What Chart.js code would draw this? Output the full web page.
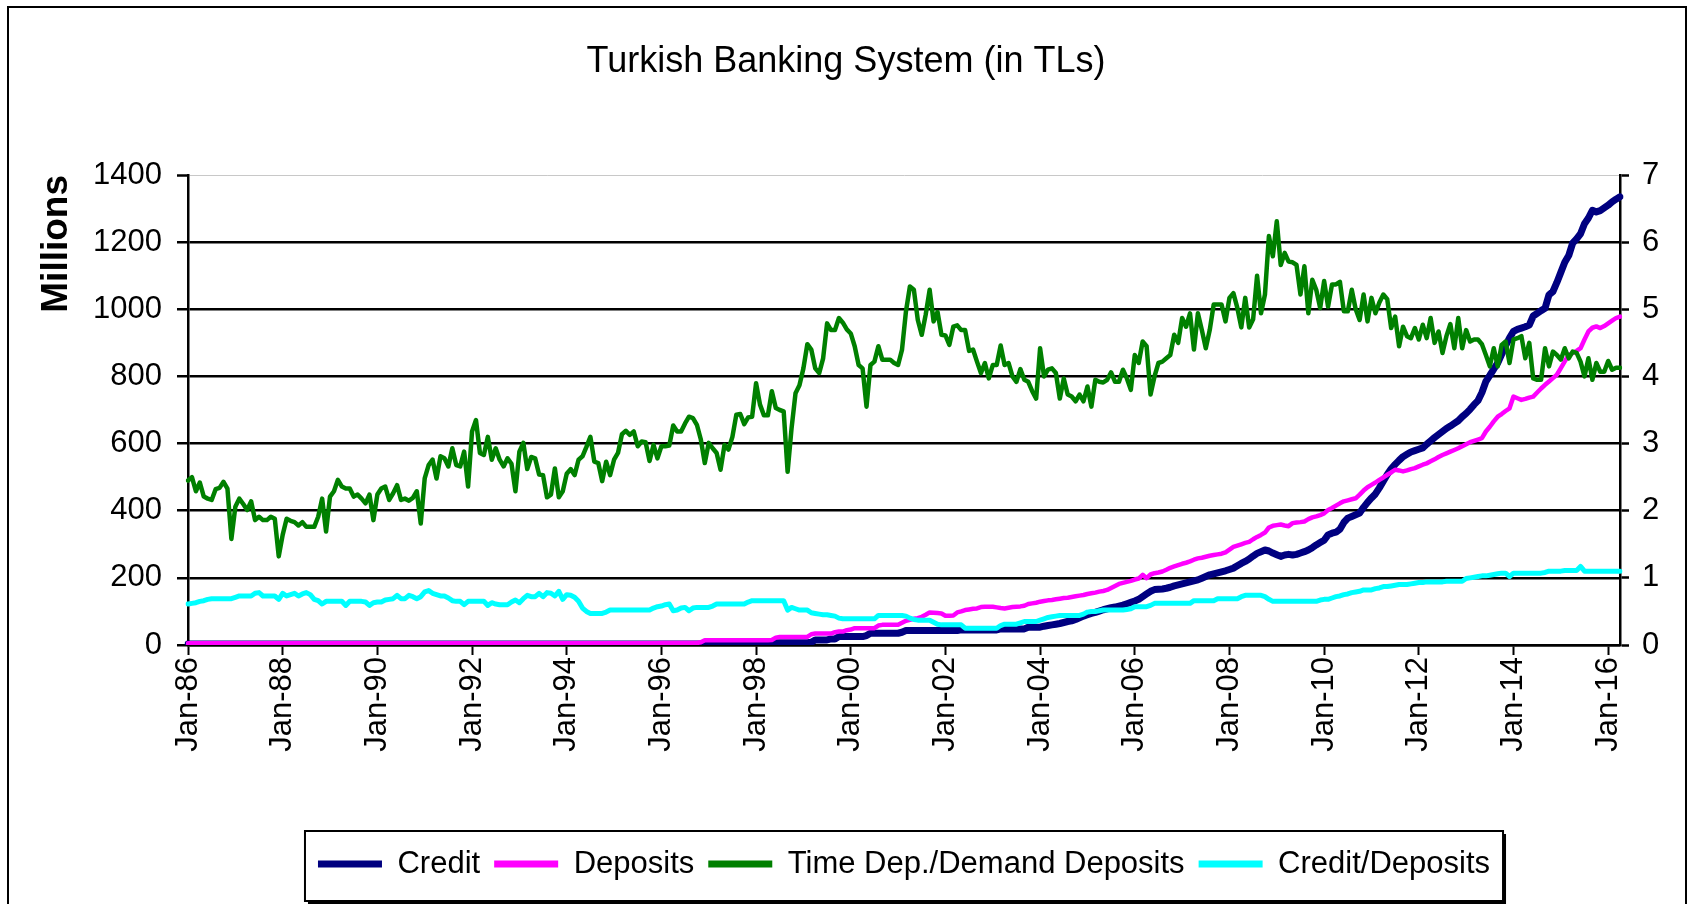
<!DOCTYPE html>
<html>
<head>
<meta charset="utf-8">
<script src="https://cdn.jsdelivr.net/npm/chart.js@4"></script>
<style>
html,body{margin:0;padding:0;background:#fff;overflow:hidden;width:1692px;height:904px;}
#frame{position:absolute;left:7px;top:6px;width:1680px;height:1000px;border:2px solid #000;box-sizing:border-box;}
#c{position:absolute;left:0;top:0;}
</style>
</head>
<body>
<div id="frame"></div>
<canvas id="c" width="1692" height="904"></canvas>
<script>
// ---- Data (monthly, Jan-86 .. Apr-16) ----
const monthNames = ['Jan','Feb','Mar','Apr','May','Jun','Jul','Aug','Sep','Oct','Nov','Dec'];
const firstYear = 1986;

// Credit (left axis, millions)
const credit = [
  3,3,3,3,3,3,3,3,3,3,3,3,
  3,3,3,3,3,3,3,3,3,3,3,3,
  3,3,3,3,3,3,3,3,3,3,3,3,
  3,3,3,3,3,3,3,3,3,3,3,3,
  3,3,3,3,3,3,3,3,3,3,3,3,
  3,3,3,3,3,3,3,3,3,3,3,3,
  3,3,3,3,3,3,3,3,3,3,3,3,
  3,3,3,3,3,3,3,3,3,3,3,3,
  3,3,3,3,3,3,3,3,3,3,3,3,
  3,3,3,3,3,3,3,3,3,3,3,3,
  3,3,3,3,3,3,3,3,3,3,3,3,
  4,4,4,4,6,7,7,7,7,7,7,7,
  7,7,7,7,7,7,7,7,7,7,7,7,
  7,7,8,15,15,15,15,18,18,25,25,25,
  25,25,25,25,28,35,35,35,35,35,35,35,
  35,38,43,43,43,43,43,43,43,43,43,43,
  43,43,43,43,45,45,45,45,45,45,45,45,
  45,45,48,48,48,48,48,48,48,53,53,53,
  53,56,58,60,62,64,67,70,72,76,81,86,
  90,94,97,101,105,108,111,113,116,119,123,127,
  131,136,144,152,160,165,166,167,169,172,176,179,
  182,185,188,191,194,199,204,209,212,215,218,221,
  225,229,236,243,249,256,265,273,278,283,280,274,
  269,264,268,270,268,270,274,278,283,290,298,305,
  312,328,333,336,345,365,378,383,388,393,410,425,
  438,450,468,488,508,525,538,550,561,568,575,579,
  583,587,598,608,618,627,636,645,652,660,668,680,
  690,702,716,728,752,785,803,822,840,866,892,915,
  934,940,944,948,953,980,988,996,1003,1043,1053,1080,
  1110,1140,1160,1197,1210,1225,1255,1272,1295,1290,1294,1302,
  1310,1320,1328,1335
];

// Deposits (left axis, millions)
const deposits = [
  5,5,5,5,5,5,5,5,5,5,5,5,
  5,5,5,5,5,5,5,5,5,5,5,5,
  5,5,5,5,5,5,5,5,5,5,5,5,
  5,5,5,5,5,5,5,5,5,5,5,5,
  5,5,5,5,5,5,5,5,5,5,5,5,
  5,5,5,5,5,5,5,5,5,5,5,5,
  5,5,5,5,5,5,5,5,5,5,5,5,
  5,5,5,5,5,5,5,5,5,5,5,5,
  5,5,5,5,5,5,5,5,5,5,5,5,
  5,5,5,5,5,5,5,5,5,5,5,5,
  6,6,6,6,6,6,6,6,6,6,8,14,
  14,14,14,14,14,14,14,14,14,14,14,14,
  14,14,14,14,15,22,24,24,24,24,24,24,
  24,24,32,34,34,34,34,34,38,40,40,44,
  46,50,50,50,50,50,50,58,60,60,60,60,
  60,66,72,75,78,80,84,90,97,96,95,94,
  87,87,88,97,100,104,106,108,109,113,114,114,
  114,112,110,109,111,113,114,115,117,122,124,126,
  129,131,133,134,136,138,140,141,143,145,147,149,
  152,154,156,159,161,164,170,176,182,185,188,191,
  195,198,209,199,210,214,216,219,224,230,234,238,
  242,245,249,254,258,260,263,266,268,270,272,276,
  284,292,296,300,304,307,315,322,328,335,350,355,
  357,359,356,354,363,365,366,368,375,380,383,387,
  392,402,408,415,422,428,431,434,437,448,460,470,
  477,484,492,499,507,514,522,520,517,520,524,527,
  532,537,541,547,553,560,566,571,576,581,586,592,
  598,604,608,612,616,636,650,666,680,688,697,705,
  740,735,730,733,737,740,752,764,775,785,795,805,
  825,845,864,870,876,884,910,934,945,949,944,950,
  958,966,974,978
];

// Time Deposits / Demand Deposits (right axis)
const timeDemand = [
  2.45,2.50,2.29,2.42,2.21,2.18,2.16,2.32,2.34,2.43,2.33,1.58,
  2.06,2.18,2.10,2.01,2.14,1.86,1.91,1.86,1.86,1.91,1.88,1.32,
  1.64,1.88,1.85,1.83,1.78,1.83,1.76,1.76,1.76,1.91,2.18,1.69,
  2.21,2.29,2.46,2.36,2.33,2.33,2.21,2.24,2.18,2.11,2.24,1.86,
  2.24,2.33,2.36,2.16,2.26,2.38,2.16,2.18,2.15,2.19,2.29,1.81,
  2.48,2.68,2.76,2.48,2.81,2.78,2.66,2.93,2.68,2.66,2.88,2.36,
  3.18,3.35,2.86,2.83,3.10,2.76,2.93,2.76,2.66,2.78,2.70,2.29,
  2.88,3.01,2.62,2.80,2.78,2.54,2.53,2.20,2.24,2.63,2.20,2.29,
  2.55,2.62,2.53,2.76,2.81,2.95,3.10,2.73,2.71,2.44,2.73,2.53,
  2.76,2.86,3.14,3.19,3.13,3.18,2.96,3.03,3.02,2.74,2.98,2.78,
  2.96,2.96,2.97,3.27,3.18,3.18,3.30,3.40,3.38,3.28,3.06,2.71,
  3.01,2.93,2.86,2.61,2.98,2.91,3.10,3.43,3.44,3.29,3.39,3.40,
  3.90,3.58,3.42,3.42,3.78,3.53,3.50,3.48,2.58,3.23,3.75,3.87,
  4.12,4.48,4.40,4.12,4.05,4.27,4.79,4.69,4.69,4.87,4.80,4.70,
  4.64,4.45,4.17,4.12,3.55,4.17,4.22,4.45,4.25,4.25,4.25,4.20,
  4.17,4.40,4.97,5.34,5.29,4.84,4.62,4.92,5.29,4.82,4.96,4.62,
  4.61,4.47,4.74,4.76,4.69,4.69,4.38,4.40,4.22,4.05,4.20,3.97,
  4.17,4.17,4.46,4.17,4.20,4.00,3.92,4.11,3.95,3.92,3.78,3.67,
  4.42,4.00,4.10,4.12,4.05,3.67,3.97,3.73,3.70,3.63,3.73,3.63,
  3.85,3.55,3.95,3.92,3.91,3.95,4.06,3.92,3.92,4.10,3.97,3.80,
  4.32,4.20,4.52,4.45,3.73,4.00,4.20,4.22,4.27,4.32,4.62,4.50,
  4.87,4.74,4.94,4.40,4.94,4.69,4.42,4.69,5.07,5.07,5.07,4.82,
  5.17,5.24,5.02,4.73,5.17,4.73,4.85,5.50,4.94,5.22,6.09,5.79,
  6.31,5.66,5.84,5.71,5.70,5.66,5.22,5.64,4.94,5.44,5.29,5.02,
  5.42,5.04,5.37,5.37,5.41,4.97,4.97,5.29,5.00,4.84,5.22,4.82,
  5.17,4.94,5.10,5.22,5.15,4.72,4.89,4.45,4.74,4.60,4.57,4.72,
  4.55,4.77,4.57,4.87,4.50,4.67,4.35,4.60,4.78,4.42,4.87,4.42,
  4.69,4.52,4.55,4.55,4.48,4.32,4.15,4.42,4.15,4.47,4.52,4.20,
  4.55,4.57,4.60,4.27,4.50,3.97,3.95,3.95,4.42,4.15,4.37,4.32,
  4.25,4.42,4.27,4.37,4.35,4.22,4.00,4.27,3.95,4.20,4.07,4.07,
  4.23,4.10,4.13,4.13
];

// Credit / Deposits (right axis)
const creditDeposits = [
  0.61,0.62,0.63,0.65,0.66,0.68,0.69,0.69,0.69,0.69,0.69,0.69,
  0.71,0.73,0.73,0.73,0.73,0.77,0.78,0.73,0.73,0.73,0.73,0.68,
  0.77,0.73,0.75,0.77,0.73,0.76,0.78,0.75,0.68,0.66,0.61,0.65,
  0.65,0.65,0.65,0.65,0.59,0.65,0.65,0.65,0.65,0.64,0.59,0.63,
  0.64,0.64,0.67,0.68,0.69,0.74,0.69,0.69,0.74,0.72,0.69,0.72,
  0.79,0.81,0.77,0.75,0.73,0.73,0.70,0.66,0.65,0.65,0.60,0.65,
  0.65,0.65,0.65,0.65,0.59,0.63,0.61,0.60,0.60,0.60,0.64,0.67,
  0.63,0.69,0.74,0.72,0.72,0.77,0.72,0.78,0.77,0.73,0.80,0.68,
  0.75,0.74,0.71,0.65,0.55,0.50,0.47,0.47,0.47,0.47,0.49,0.52,
  0.52,0.52,0.52,0.52,0.52,0.52,0.52,0.52,0.52,0.52,0.55,0.57,
  0.58,0.60,0.61,0.51,0.52,0.55,0.56,0.51,0.55,0.56,0.56,0.56,
  0.56,0.58,0.61,0.61,0.61,0.61,0.61,0.61,0.61,0.61,0.64,0.66,
  0.66,0.66,0.66,0.66,0.66,0.66,0.66,0.66,0.52,0.56,0.54,0.52,
  0.52,0.52,0.48,0.47,0.46,0.45,0.45,0.44,0.43,0.40,0.39,0.39,
  0.39,0.39,0.39,0.39,0.39,0.39,0.39,0.44,0.44,0.44,0.44,0.44,
  0.44,0.44,0.43,0.40,0.38,0.37,0.37,0.37,0.37,0.34,0.31,0.30,
  0.30,0.30,0.30,0.30,0.30,0.25,0.25,0.25,0.25,0.25,0.25,0.25,
  0.25,0.25,0.29,0.31,0.31,0.31,0.31,0.33,0.35,0.35,0.35,0.35,
  0.37,0.39,0.41,0.42,0.43,0.44,0.44,0.44,0.44,0.44,0.44,0.46,
  0.49,0.50,0.50,0.51,0.52,0.52,0.52,0.52,0.52,0.52,0.53,0.54,
  0.57,0.57,0.57,0.57,0.59,0.62,0.62,0.62,0.62,0.62,0.62,0.62,
  0.62,0.62,0.62,0.66,0.66,0.66,0.66,0.66,0.66,0.69,0.69,0.69,
  0.69,0.69,0.69,0.72,0.74,0.74,0.74,0.74,0.74,0.72,0.68,0.65,
  0.65,0.65,0.65,0.65,0.65,0.65,0.65,0.65,0.65,0.65,0.65,0.67,
  0.68,0.68,0.70,0.72,0.73,0.75,0.76,0.78,0.79,0.80,0.82,0.82,
  0.82,0.84,0.85,0.87,0.87,0.88,0.89,0.90,0.90,0.90,0.91,0.92,
  0.93,0.93,0.94,0.94,0.94,0.94,0.94,0.95,0.95,0.95,0.95,0.95,
  0.99,1.00,1.01,1.02,1.03,1.03,1.04,1.05,1.06,1.07,1.07,1.02,
  1.07,1.07,1.07,1.07,1.07,1.07,1.07,1.07,1.08,1.10,1.10,1.10,
  1.10,1.11,1.11,1.11,1.11,1.17,1.10,1.10,1.10,1.10,1.10,1.10,
  1.10,1.10,1.10,1.10
];

// Category labels: one per month
const months = credit.map((_, i) =>
  monthNames[i % 12] + '-' + String((firstYear + Math.floor(i / 12)) % 100).padStart(2, '0'));

const leftTicks = {min: 0, max: 1400, step: 200};
const rightTicks = {min: 0, max: 7, step: 1};

const FONT = "'Liberation Sans', Arial, Helvetica, sans-serif";
Chart.defaults.font.family = FONT;
Chart.defaults.color = '#000';

// Frame (with a small shadow) behind the legend; drawn before the legend itself
const legendFrame = {
  id: 'legendFrame',
  beforeDraw(chart) {
    const lg = chart.legend;
    if (!lg || !lg.legendHitBoxes || !lg.legendHitBoxes.length) return;
    const hb = lg.legendHitBoxes;
    const l = Math.min(...hb.map(h => h.left)) - 13;
    const r = Math.max(...hb.map(h => h.left + h.width)) + 13;
    const cy = hb[0].top + hb[0].height / 2;
    const ctx = chart.ctx;
    ctx.save();
    ctx.fillStyle = '#000';
    ctx.fillRect(l + 3, cy - 30, r - l, 70);
    ctx.fillStyle = '#fff';
    ctx.fillRect(l, cy - 33, r - l, 70);
    ctx.strokeStyle = '#000';
    ctx.lineWidth = 2;
    ctx.strokeRect(l, cy - 33, r - l, 70);
    ctx.restore();
  }
};

new Chart(document.getElementById('c'), {
  type: 'line',
  data: {
    labels: months,
    datasets: [
      {label: 'Credit', data: credit, borderColor: '#000080', backgroundColor: '#000080', borderWidth: 7, yAxisID: 'y', order: 4},
      {label: 'Deposits', data: deposits, borderColor: '#FF00FF', backgroundColor: '#FF00FF', borderWidth: 4.5, yAxisID: 'y', order: 3},
      {label: 'Time Dep./Demand Deposits', data: timeDemand, borderColor: '#008000', backgroundColor: '#008000', borderWidth: 4.5, yAxisID: 'y2', order: 2},
      {label: 'Credit/Deposits', data: creditDeposits, borderColor: '#00FFFF', backgroundColor: '#00FFFF', borderWidth: 5, yAxisID: 'y2', order: 1}
    ]
  },
  options: {
    responsive: false,
    animation: false,
    devicePixelRatio: 1,
    elements: {
      point: {radius: 0, hoverRadius: 0},
      line: {tension: 0, borderJoinStyle: 'round', borderCapStyle: 'round'}
    },
    layout: {padding: {left: 0, right: 0, top: 0, bottom: 14.5}},
    plugins: {
      title: {
        display: true,
        text: 'Turkish Banking System (in TLs)',
        color: '#000',
        font: {size: 36, weight: 'normal'},
        padding: {top: 40.4, bottom: 91.4}
      },
      legend: {
        position: 'bottom',
        fullSize: false,
        labels: {
          color: '#000',
          font: {size: 31},
          boxWidth: 64,
          boxHeight: 7,
          padding: 14,
          generateLabels: chart => chart.data.datasets.map((ds, i) => ({
            text: ds.label, fillStyle: ds.borderColor, strokeStyle: ds.borderColor,
            lineWidth: 0, hidden: false, datasetIndex: i, fontColor: '#000'
          }))
        }
      },
      tooltip: {enabled: false}
    },
    scales: {
      x: {
        type: 'category',
        offset: false,
        afterBuildTicks: s => { s.ticks = s.ticks.filter(t => t.value % 24 === 0); },
        afterFit: s => { s.height = 189.5; },
        grid: {drawOnChartArea: false, drawTicks: true, tickLength: 10, tickWidth: 2, tickColor: '#000', color: '#000'},
        border: {display: true, color: '#000', width: 2.5},
        ticks: {
          autoSkip: false, minRotation: 90, maxRotation: 90, padding: 2,
          color: '#000', font: {size: 31},
          callback: function (v) { return this.getLabelForValue(v); }
        }
      },
      y: {
        position: 'left',
        min: leftTicks.min, max: leftTicks.max,
        afterFit: s => { s.width = 188; },
        ticks: {stepSize: leftTicks.step, color: '#000', font: {size: 31}, padding: 15, callback: v => String(v)},
        grid: {
          color: c => (c.tick && c.tick.value === leftTicks.max) ? '#c8c8c8' : '#000',
          lineWidth: c => (c.tick && c.tick.value === leftTicks.max) ? 1 : 2.5,
          tickColor: '#000', tickLength: 11, tickWidth: 2.5
        },
        border: {color: '#000', width: 2.5},
        title: {display: true, text: 'Millions', align: 'end', color: '#000', font: {size: 37, weight: 'bold'}, padding: {top: 35, bottom: 0}}
      },
      y2: {
        position: 'right',
        min: rightTicks.min, max: rightTicks.max,
        afterFit: s => { s.width = 72; },
        ticks: {stepSize: rightTicks.step, color: '#000', font: {size: 31}, padding: 13, callback: v => String(v)},
        grid: {drawOnChartArea: false, tickColor: '#000', tickLength: 9, tickWidth: 2.5},
        border: {color: '#000', width: 2.5}
      }
    }
  },
  plugins: [legendFrame]
});
</script>
</body>
</html>
